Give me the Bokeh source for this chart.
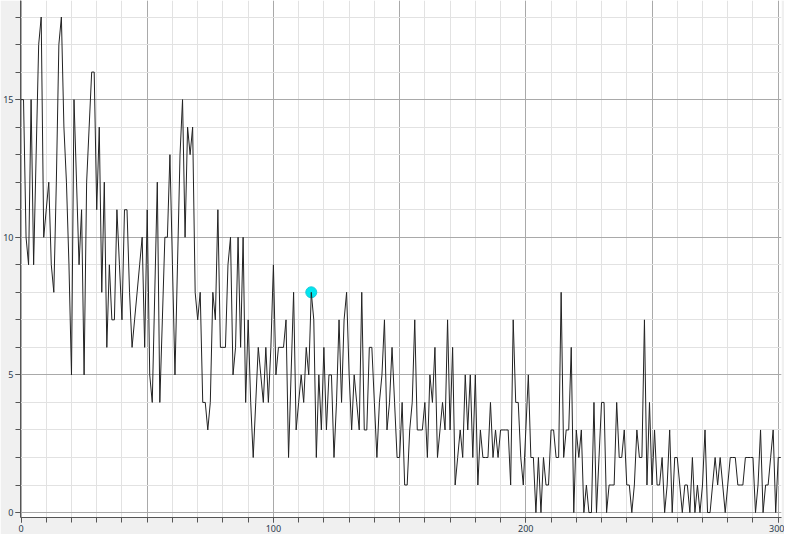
from bokeh.plotting import figure
from bokeh.models import FixedTicker, Range1d
from bokeh.embed import file_html
from bokeh.resources import INLINE

# ---- data ----
values = [
    15, 15, 10, 9, 15, 9, 13, 17, 18, 10,
    11, 12, 9, 8, 12, 17, 18, 14, 12, 9,
    5, 15, 12, 9, 11, 5, 12, 14, 16, 16,
    11, 14, 8, 12, 6, 9, 7, 7, 11, 9,
    7, 11, 11, 8, 6, 7, 8, 9, 10, 6,
    11, 5, 4, 8, 12, 4, 7, 10, 10, 13,
    9, 5, 9, 13, 15, 10, 14, 13, 14, 8,
    7, 8, 4, 4, 3, 4, 8, 7, 11, 6,
    6, 6, 9, 10, 5, 6, 10, 6, 10, 4,
    7, 4, 2, 4, 6, 5, 4, 6, 4, 6,
    9, 5, 6, 6, 6, 7, 2, 5, 8, 3,
    4, 5, 4, 6, 5, 8, 7, 2, 5, 3,
    6, 3, 5, 5, 2, 4, 7, 4, 7, 8,
    5, 3, 5, 4, 3, 8, 3, 3, 6, 6,
    4, 2, 4, 5, 7, 3, 4, 6, 4, 2,
    2, 4, 1, 1, 3, 4, 7, 3, 3, 3,
    4, 2, 5, 4, 6, 2, 3, 4, 3, 7,
    3, 6, 1, 2, 3, 2, 5, 3, 5, 2,
    5, 1, 3, 2, 2, 2, 4, 2, 3, 2,
    3, 3, 3, 3, 1, 7, 4, 4, 2, 1,
    3, 5, 2, 2, 0, 2, 0, 2, 1, 1,
    3, 3, 2, 2, 8, 2, 3, 3, 6, 0,
    3, 2, 3, 0, 1, 0, 0, 4, 0, 2,
    4, 4, 0, 1, 1, 1, 4, 2, 2, 3,
    1, 1, 0, 1, 3, 2, 2, 7, 1, 4,
    1, 3, 1, 1, 2, 0, 1, 3, 0, 2,
    2, 1, 0, 1, 1, 0, 2, 0, 1, 0,
    1, 3, 0, 0, 1, 2, 1, 2, 1, 0,
    1, 2, 2, 2, 1, 1, 1, 2, 2, 2,
    2, 0, 1, 3, 0, 1, 1, 2, 3, 0,
    2, 2,
]
xs = list(range(len(values)))
highlight_index = 115

x_labels = [0, 100, 200, 300]
x_grid_major = [0, 50, 100, 150, 200, 250, 300]
x_minor = list(range(0, 310, 10))
y_labels = [0, 5, 10, 15]
y_minor = list(range(0, 19))

p = figure(width=784, height=534, output_backend="svg", toolbar_location=None,
           x_range=Range1d(-0.2, 301.3), y_range=Range1d(-0.18, 18.6),
           min_border_left=0, min_border_right=3, min_border_top=0, min_border_bottom=0)

p.background_fill_color = "#ffffff"
p.border_fill_color = "#f0f0f0"
p.outline_line_color = None

# grids
xg = p.xgrid[0]
xg.ticker = FixedTicker(ticks=x_grid_major, minor_ticks=x_minor)
xg.grid_line_color = "#a9a9a9"
xg.minor_grid_line_color = "#e2e2e2"
yg = p.ygrid[0]
yg.ticker = FixedTicker(ticks=y_labels, minor_ticks=y_minor)
yg.grid_line_color = "#a9a9a9"
yg.minor_grid_line_color = "#e2e2e2"

# axes
for ax, tk in ((p.xaxis[0], FixedTicker(ticks=x_labels, minor_ticks=x_minor)),
               (p.yaxis[0], FixedTicker(ticks=y_labels, minor_ticks=y_minor))):
    ax.ticker = tk
    ax.axis_line_color = "#555555"
    ax.major_tick_line_color = "#555555"
    ax.minor_tick_line_color = "#555555"
    ax.major_tick_in = 0
    ax.major_tick_out = 5
    ax.minor_tick_in = 0
    ax.minor_tick_out = 5
    ax.major_label_text_font = "Noto Sans"
    ax.major_label_text_font_size = "9px"
    ax.major_label_text_color = "#2b3a4c"
    ax.major_label_standoff = 2

p.scatter([xs[highlight_index]], [values[highlight_index]], size=11,
          fill_color="#00e6f0", line_color="#1cc8d8", line_width=1)
p.line(xs, values, line_color="#222222", line_width=1)

open("out.html", "w").write(file_html(p, INLINE))
